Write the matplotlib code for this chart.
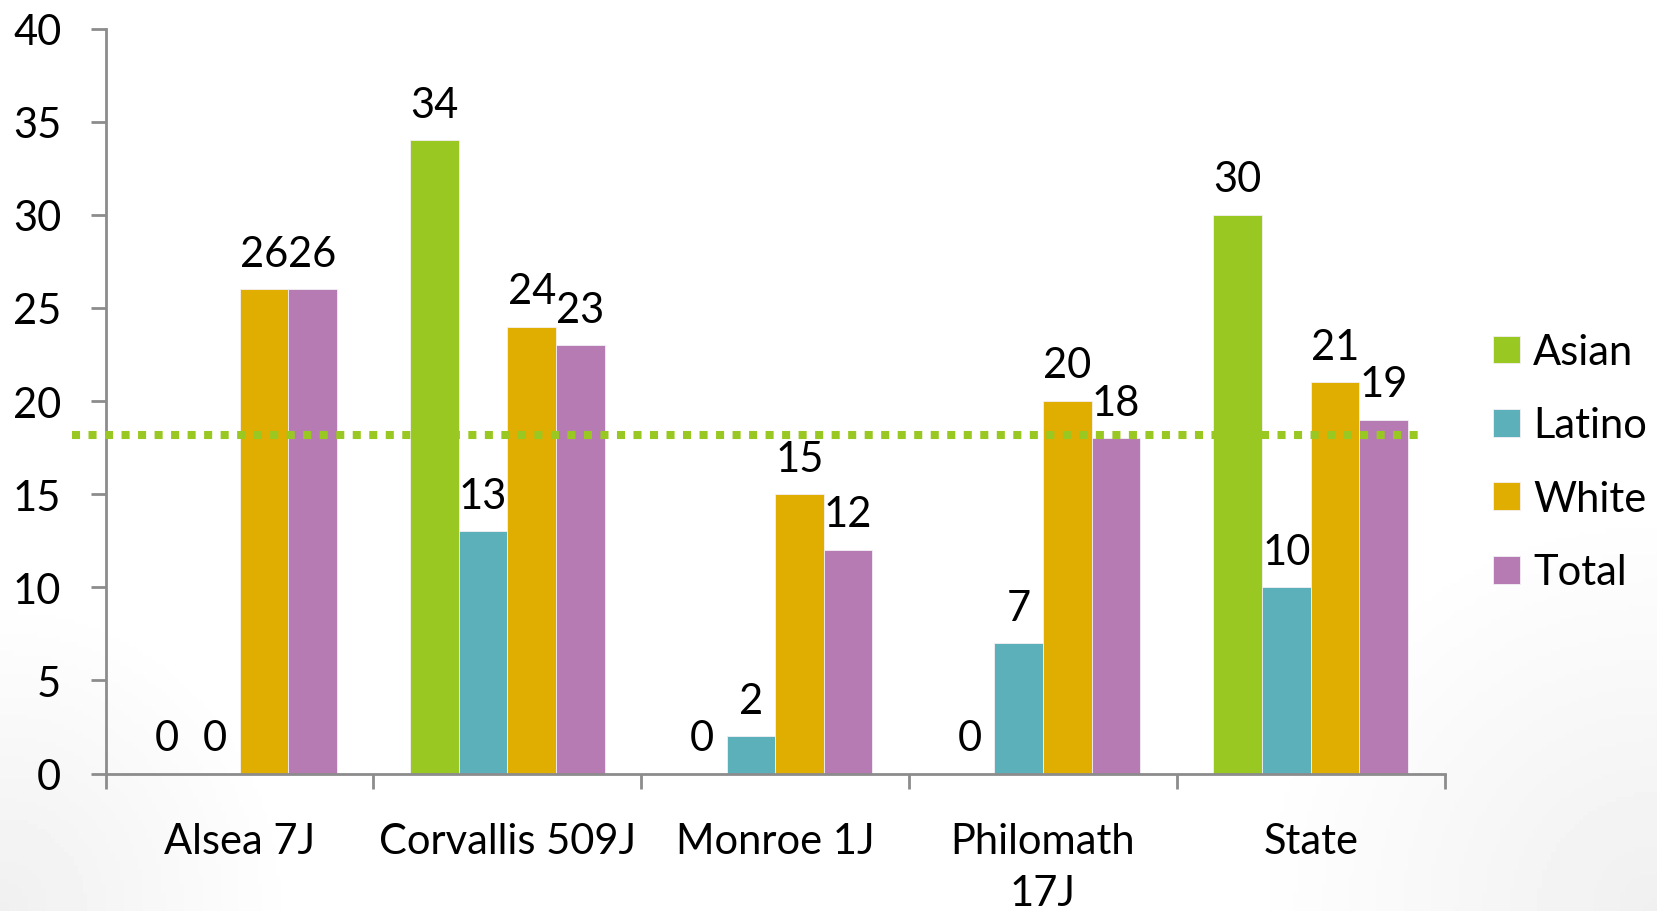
import numpy as np
import matplotlib
matplotlib.use("Agg")
import matplotlib.pyplot as plt

categories = ["Alsea 7J", "Corvallis 509J", "Monroe 1J", "Philomath\n17J", "State"]
series = ["Asian", "Latino", "White", "Total"]
asian = [0, 34, 0, 0, 30]
latino = [0, 13, 2, 7, 10]
white = [26, 24, 15, 20, 21]
total = [26, 23, 12, 18, 19]
reference_line = 18.2

colors = ["#9AC823", "#5BB0BA", "#DFAE00", "#B77BB3"]
values = [asian, latino, white, total]

plt.rcParams["font.family"] = ["Lato", "DejaVu Sans"]
FS = 30

fig = plt.figure(figsize=(16.57, 9.12), dpi=100)

# subtle grey shading at the bottom corners
bg = fig.add_axes([0, 0, 1, 1], zorder=-10)
yy, xx = np.mgrid[0:1:200j, 0:1:360j]
d_left = np.sqrt((xx / 0.18) ** 2 + ((1 - yy) / 0.35) ** 2)
d_right = np.sqrt(((1 - xx) / 0.25) ** 2 + ((1 - yy) / 0.45) ** 2)
shade = 0.06 * np.clip(1 - d_left, 0, 1) + 0.06 * np.clip(1 - d_right, 0, 1)
bg.imshow(1 - shade, cmap="gray", vmin=0, vmax=1, aspect="auto", extent=[0, 1, 0, 1])
bg.axis("off")

ax = fig.add_axes([0.0638, 0.1507, 0.808, 0.8168])
ax.set_facecolor("none")

x = np.arange(len(categories))
w = 0.1815
for i, (name, vals, c) in enumerate(zip(series, values, colors)):
    pos = x + (i - 1.5) * w
    ax.bar(pos, vals, width=w, color=c, label=name, edgecolor="#f4f0f4", linewidth=0.6, zorder=2)
    for p, v in zip(pos, vals):
        ax.annotate(str(v), (p, v), xytext=(0, 12), textcoords="offset points",
                    ha="center", va="bottom", fontsize=FS, zorder=4)

ax.set_xlim(-0.5, len(categories) - 0.5)
ax.set_ylim(0, 40)
ax.set_yticks(range(0, 41, 5))
ax.set_xticks(x)
ax.set_xticklabels(categories, fontsize=FS, linespacing=1.45)
ax.set_xticks(np.arange(-0.5, len(categories)), minor=True)
ax.tick_params(axis="x", which="major", length=0, pad=35)
ax.tick_params(axis="x", which="minor", length=11, width=2, color="#8c8c8c")
ax.tick_params(axis="y", length=11, width=2, color="#8c8c8c", labelsize=FS, pad=21)
for s in ["top", "right"]:
    ax.spines[s].set_visible(False)
for s in ["left", "bottom"]:
    ax.spines[s].set_color("#8c8c8c")
    ax.spines[s].set_linewidth(2)

# dotted reference line drawn over the bars
trans = ax.get_yaxis_transform()
ax.plot([-0.025, 0.985], [reference_line, reference_line], transform=trans,
        color=colors[0], linewidth=5.8, linestyle=(0, (1, 1.05)),
        dash_capstyle="butt", clip_on=False, zorder=3)

ax.legend(loc="center left", bbox_to_anchor=(1.024, 0.418), frameon=False,
          fontsize=FS, handlelength=0.65, handleheight=0.65, handletextpad=0.3,
          labelspacing=0.85, borderaxespad=0)

fig.savefig("out.png", dpi=100)
